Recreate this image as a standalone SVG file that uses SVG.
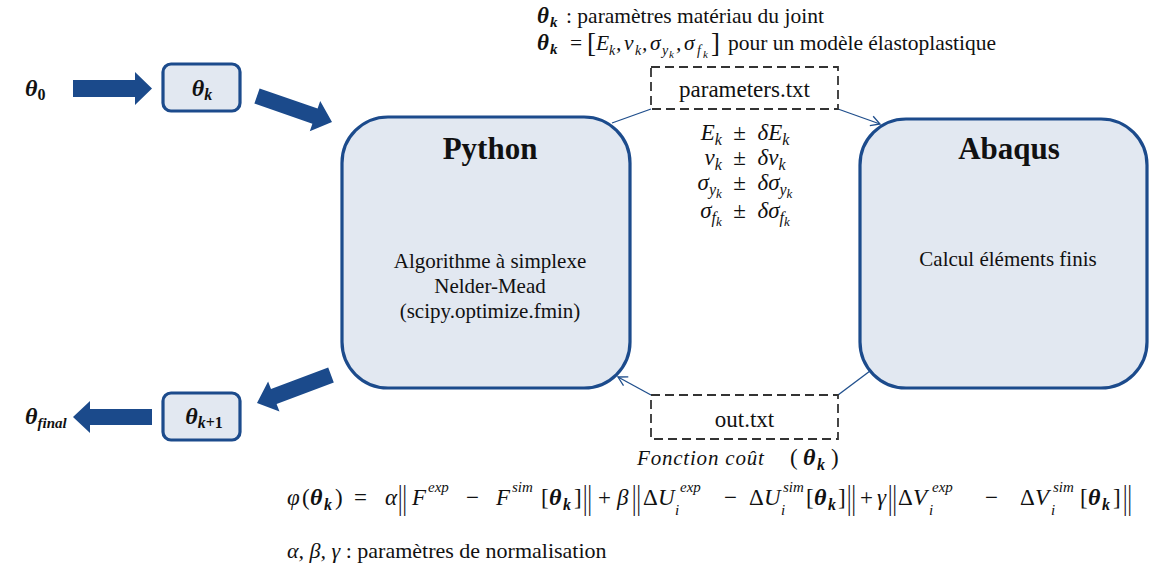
<svg xmlns="http://www.w3.org/2000/svg" width="1152" height="567" viewBox="0 0 1152 567">
<style>
.big{fill:#e2e8f1;stroke:#1c4b8c;stroke-width:3.2}
.small{fill:#e2e8f1;stroke:#1c4b8c;stroke-width:3.2}
.blk{fill:#1b4a8b}
.dash{fill:#fff;stroke:#333;stroke-width:1.8;stroke-dasharray:9 5}
.con{stroke:#1f4e8c;stroke-width:1.3;fill:none}
.t{font-family:"Liberation Serif","Times New Roman",serif;fill:#111}
.m{font-family:"Liberation Serif","Times New Roman",serif;font-style:italic;fill:#111}
.b{font-family:"Liberation Serif","Times New Roman",serif;font-style:italic;font-weight:bold;fill:#111}
.bar{font-family:"Liberation Serif","Times New Roman",serif;fill:#111;font-size:22px}
</style>
<defs>
<marker id="oh" markerWidth="12" markerHeight="12" refX="10" refY="6" orient="auto" markerUnits="userSpaceOnUse">
<path d="M1,1 L10,6 L1,11" fill="none" stroke="#1f4e8c" stroke-width="1.3"/>
</marker>
</defs>

<g id="connectors">
<polygon class="blk" points="73,80 135,80 135,72 152,88.5 135,105 135,97 73,97"/>
<polygon class="blk" points="254.4,103.6 259.6,88.4 317.6,108.5 320.2,101 332,122 309.8,131.2 312.4,123.7"/>
<polygon class="blk" points="328.2,367.5 333.8,382.5 276.6,404.1 279.5,411.6 257,403 268.1,381.6 271,389.1"/>
<polygon class="blk" points="73,417 90,401 90,409 152,409 152,425 90,425 90,433"/>
<line class="con" x1="612" y1="123" x2="651" y2="109"/>
<line class="con" x1="838" y1="109" x2="880" y2="124" marker-end="url(#oh)"/>
<line class="con" x1="870" y1="371" x2="838" y2="395"/>
<line class="con" x1="651" y1="395" x2="618" y2="377" marker-end="url(#oh)"/>
</g>

<g id="theta0">
<text class="b" x="25" y="96" font-size="24">θ<tspan font-size="16" font-style="normal" dy="4">0</tspan></text>
</g>
<g id="thetak">
<rect class="small" x="163" y="64" width="77" height="47" rx="8"/>
<text class="b" x="202" y="96" font-size="24" text-anchor="middle">θ<tspan font-size="16" dy="4">k</tspan></text>
</g>
<g id="thetak1">
<rect class="small" x="163" y="393" width="77" height="47" rx="8"/>
<text class="b" x="204" y="424" font-size="24" text-anchor="middle">θ<tspan font-size="16" dy="4">k</tspan><tspan font-size="16" font-style="normal">+1</tspan></text>
</g>
<g id="thetafinal">
<text class="b" x="25" y="424" font-size="24">θ<tspan font-size="15" dy="4">final</tspan></text>
</g>

<g id="python">
<rect class="big" x="342" y="117" width="288" height="271" rx="46"/>
<text class="t" x="490" y="159" font-size="31" font-weight="bold" text-anchor="middle">Python</text>
<text class="t" x="490" y="268" font-size="21" text-anchor="middle">Algorithme à simplexe</text>
<text class="t" x="490" y="293" font-size="21" text-anchor="middle">Nelder-Mead</text>
<text class="t" x="490" y="318" font-size="21" text-anchor="middle">(scipy.optimize.fmin)</text>
</g>

<g id="abaqus">
<rect class="big" x="860" y="119" width="287" height="269" rx="46"/>
<text class="t" x="1009" y="159" font-size="31" font-weight="bold" text-anchor="middle">Abaqus</text>
<text class="t" x="1008" y="266" font-size="21" text-anchor="middle">Calcul éléments finis</text>
</g>

<g id="params">
<rect class="dash" x="651" y="67" width="187" height="42"/>
<text class="t" x="744.5" y="97" font-size="23" text-anchor="middle">parameters.txt</text>
</g>

<g id="out">
<rect class="dash" x="651" y="395" width="187" height="44"/>
<text class="t" x="744.5" y="427" font-size="23" text-anchor="middle">out.txt</text>
</g>

<g id="variations">
<text class="m" x="745" y="140" font-size="23" text-anchor="middle">E<tspan font-size="16" dy="5">k</tspan><tspan font-style="normal" dy="-5" xml:space="preserve">  ±  </tspan>δE<tspan font-size="16" dy="5">k</tspan></text>
<text class="m" x="745" y="165" font-size="23" text-anchor="middle">ν<tspan font-size="16" dy="5">k</tspan><tspan font-style="normal" dy="-5" xml:space="preserve">  ±  </tspan>δν<tspan font-size="16" dy="5">k</tspan></text>
<text class="m" x="745" y="190" font-size="23" text-anchor="middle">σ<tspan font-size="16" dy="5">y</tspan><tspan font-size="13" dy="3">k</tspan><tspan font-style="normal" dy="-8" xml:space="preserve">  ±  </tspan>δσ<tspan font-size="16" dy="5">y</tspan><tspan font-size="13" dy="3">k</tspan></text>
<text class="m" x="745" y="218" font-size="23" text-anchor="middle">σ<tspan font-size="16" dy="5">f</tspan><tspan font-size="13" dy="3">k</tspan><tspan font-style="normal" dy="-8" xml:space="preserve">  ±  </tspan>δσ<tspan font-size="16" dy="5">f</tspan><tspan font-size="13" dy="3">k</tspan></text>
</g>

<g id="header">
<text class="b" x="537" y="23" font-size="23">θ</text>
<text class="b" x="550" y="27" font-size="15">k</text>
<text class="t" x="566" y="23" font-size="21.5">: paramètres matériau du joint</text>
<text class="b" x="537" y="50" font-size="23">θ</text>
<text class="b" x="550" y="54" font-size="15">k</text>
<text class="t" x="570" y="50" font-size="21.5">=</text>
<text class="t" x="587" y="52" font-size="27">[</text>
<text class="m" x="596" y="50" font-size="21.5">E</text>
<text class="m" x="609" y="55" font-size="14">k</text>
<text class="m" x="616" y="50" font-size="21.5">,</text>
<text class="m" x="624" y="50" font-size="21.5">ν</text>
<text class="m" x="635" y="55" font-size="14">k</text>
<text class="m" x="642" y="50" font-size="21.5">,</text>
<text class="m" x="650" y="50" font-size="21.5">σ</text>
<text class="m" x="662" y="55" font-size="14">y</text>
<text class="m" x="669" y="58" font-size="11">k</text>
<text class="m" x="676" y="50" font-size="21.5">,</text>
<text class="m" x="684" y="50" font-size="21.5">σ</text>
<text class="m" x="697" y="55" font-size="14">f</text>
<text class="m" x="703" y="58" font-size="11">k</text>
<text class="t" x="711" y="52" font-size="27">]</text>
<text class="t" x="728" y="50" font-size="21.5">pour un modèle élastoplastique</text>
</g>

<g id="cost">
<text class="m" x="637" y="465" font-size="21" letter-spacing="0.8">Fonction coût</text>
<text class="t" x="790" y="465" font-size="23">(</text>
<text class="b" x="803" y="465" font-size="24">θ</text>
<text class="b" x="817" y="470" font-size="16">k</text>
<text class="t" x="831" y="465" font-size="23">)</text>
</g>

<g id="formula">
<text class="m" x="287" y="505" font-size="23">φ</text>
<text class="t" x="302" y="505" font-size="23">(</text>
<text class="b" x="310" y="505" font-size="24">θ</text>
<text class="b" x="324" y="510" font-size="16">k</text>
<text class="t" x="335" y="505" font-size="23">)</text>
<text class="t" x="354" y="505" font-size="23">=</text>
<text class="m" x="385" y="505" font-size="23">α</text>
<text class="bar" transform="translate(398,509) scale(1,1.5)">||</text>
<text class="m" x="412" y="505" font-size="23">F</text>
<text class="m" x="428" y="492" font-size="15">exp</text>
<text class="t" x="466" y="505" font-size="23">−</text>
<text class="m" x="496" y="505" font-size="23">F</text>
<text class="m" x="512" y="492" font-size="15">sim</text>
<text class="t" x="541" y="505" font-size="23">[</text>
<text class="b" x="549" y="505" font-size="24">θ</text>
<text class="b" x="563" y="510" font-size="16">k</text>
<text class="t" x="574" y="505" font-size="23">]</text>
<text class="bar" transform="translate(583,509) scale(1,1.5)">||</text>
<text class="t" x="598" y="505" font-size="23">+</text>
<text class="m" x="617" y="505" font-size="23">β</text>
<text class="bar" transform="translate(632,509) scale(1,1.5)">||</text>
<text class="t" x="643" y="505" font-size="23">Δ</text>
<text class="m" x="658" y="505" font-size="23">U</text>
<text class="m" x="675" y="515" font-size="15">i</text>
<text class="m" x="680" y="492" font-size="15">exp</text>
<text class="t" x="724" y="505" font-size="23">−</text>
<text class="t" x="749" y="505" font-size="23">Δ</text>
<text class="m" x="764" y="505" font-size="23">U</text>
<text class="m" x="781" y="515" font-size="15">i</text>
<text class="m" x="783" y="492" font-size="15">sim</text>
<text class="t" x="806" y="505" font-size="23">[</text>
<text class="b" x="814" y="505" font-size="24">θ</text>
<text class="b" x="828" y="510" font-size="16">k</text>
<text class="t" x="838" y="505" font-size="23">]</text>
<text class="bar" transform="translate(847,509) scale(1,1.5)">||</text>
<text class="t" x="860" y="505" font-size="23">+</text>
<text class="m" x="877" y="505" font-size="23">γ</text>
<text class="bar" transform="translate(888,509) scale(1,1.5)">||</text>
<text class="t" x="898" y="505" font-size="23">Δ</text>
<text class="m" x="913" y="505" font-size="23">V</text>
<text class="m" x="929" y="515" font-size="15">i</text>
<text class="m" x="932" y="492" font-size="15">exp</text>
<text class="t" x="985" y="505" font-size="23">−</text>
<text class="t" x="1020" y="505" font-size="23">Δ</text>
<text class="m" x="1035" y="505" font-size="23">V</text>
<text class="m" x="1051" y="515" font-size="15">i</text>
<text class="m" x="1053" y="492" font-size="15">sim</text>
<text class="t" x="1080" y="505" font-size="23">[</text>
<text class="b" x="1088" y="505" font-size="24">θ</text>
<text class="b" x="1102" y="510" font-size="16">k</text>
<text class="t" x="1113" y="505" font-size="23">]</text>
<text class="bar" transform="translate(1123,509) scale(1,1.5)">||</text>
</g>

<g id="norm">
<text class="t" x="287" y="558" font-size="22"><tspan class="m">α, β, γ</tspan> : paramètres de normalisation</text>
</g>
</svg>
